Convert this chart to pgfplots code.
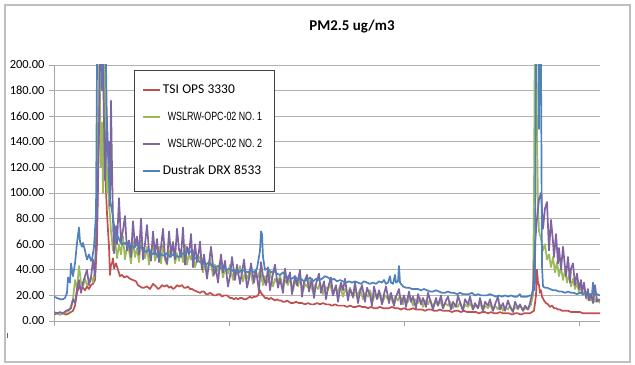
\documentclass[border=0pt]{standalone}
\usepackage{pgfplots}
\pgfplotsset{compat=1.18}
\usepackage{pgfplotstable}
\usepackage{fontspec}
\setmainfont{Carlito}
\newfontfamily\arialf{Liberation Sans}
\definecolor{exred}{HTML}{C0504D}
\definecolor{exgreen}{HTML}{9BBB59}
\definecolor{expurple}{HTML}{8064A2}
\definecolor{exblue}{HTML}{4F81BD}

\pgfplotstableread[row sep=\\]{x y\\
0 5\\ 3 6\\ 6 5\\ 9 6\\ 12 5\\ 15 6\\ 17 7\\ 19 8\\ 21 12\\ 23 22\\ 25 27\\ 27 25\\ 29 26\\ 31 24\\ 33 27\\ 35 25\\ 37 28\\ 39 29\\ 41 32\\ 43 60\\ 45 150\\ 46 230\\ 48 260\\ 50 180\\ 51 120\\ 53 84\\ 55 58\\ 56 36\\ 57 44\\ 58 45\\ 59 49\\ 60 41\\ 62 45\\ 64 40\\ 66 35\\ 68 36\\ 70 34\\ 73 35\\ 76 33\\ 79 32\\ 82 31\\ 84 28\\ 86 27\\ 88 26\\ 90 26\\ 93 27\\ 96 25\\ 99 29\\ 102 27\\ 104 25\\ 106 26\\ 108 28\\ 110 27\\ 113 28\\ 115 26\\ 117 27\\ 119 25\\ 121 26\\ 123 28\\ 125 27\\ 128 28\\ 130 26\\ 132 26\\ 134 27\\ 136 25\\ 138 25\\ 140 24\\ 143 23\\ 146 22\\ 148 23\\ 150 23\\ 152 21\\ 154 21\\ 156 22\\ 158 21\\ 160 20\\ 162 20\\ 164 21\\ 166 21\\ 168 19\\ 170 20\\ 173 20\\ 176 18\\ 178 18\\ 180 17\\ 182 18\\ 184 17\\ 186 18\\ 188 18\\ 190 17\\ 192 17\\ 194 18\\ 196 19\\ 198 18\\ 200 19\\ 202 19\\ 204 20\\ 206 24\\ 207 22\\ 209 20\\ 211 18\\ 213 18\\ 215 17\\ 217 18\\ 219 17\\ 221 16\\ 223 17\\ 225 16\\ 227 16\\ 229 15\\ 231 15\\ 233 16\\ 235 15\\ 237 14\\ 239 14\\ 242 15\\ 245 14\\ 248 14\\ 251 13\\ 254 14\\ 257 13\\ 260 13\\ 263 14\\ 266 13\\ 269 14\\ 272 13\\ 275 13\\ 278 12\\ 281 13\\ 284 12\\ 287 12\\ 290 12\\ 293 11\\ 296 12\\ 299 11\\ 302 11\\ 305 12\\ 308 11\\ 311 11\\ 314 10\\ 317 11\\ 320 10\\ 323 10\\ 326 11\\ 329 10\\ 332 10\\ 335 10\\ 338 11\\ 341 10\\ 344 10\\ 347 9\\ 350 10\\ 353 9\\ 356 9\\ 359 10\\ 362 9\\ 365 9\\ 368 9\\ 371 8\\ 374 9\\ 377 9\\ 380 8\\ 383 8\\ 386 9\\ 389 8\\ 392 8\\ 395 8\\ 398 7\\ 401 8\\ 404 8\\ 407 7\\ 410 8\\ 413 7\\ 416 7\\ 419 7\\ 422 7\\ 425 6\\ 428 7\\ 431 7\\ 434 6\\ 437 7\\ 440 6\\ 443 6\\ 446 7\\ 449 6\\ 452 6\\ 455 6\\ 458 5\\ 461 6\\ 464 6\\ 467 5\\ 470 6\\ 473 6\\ 476 6\\ 478 7\\ 480 8\\ 482 20\\ 483 40\\ 484 30\\ 485 28\\ 486 22\\ 487 24\\ 488 19\\ 490 16\\ 492 14\\ 494 13\\ 496 11\\ 498 12\\ 500 10\\ 502 10\\ 504 9\\ 506 9\\ 508 8\\ 511 8\\ 514 8\\ 517 7\\ 520 7\\ 523 7\\ 526 7\\ 529 6\\ 532 6\\ 535 6\\ 538 6\\ 541 6\\ 544 6\\ 546 6\\
}\tsi

\pgfplotstableread[row sep=\\]{x y\\
0 6\\ 3 6\\ 6 5\\ 9 6\\ 12 7\\ 15 8\\ 17 12\\ 19 17\\ 21 32\\ 23 25\\ 25 43\\ 27 30\\ 29 27\\ 31 33\\ 33 28\\ 35 30\\ 37 35\\ 39 30\\ 41 40\\ 43 100\\ 45 200\\ 46 175\\ 47 120\\ 48 155\\ 49 100\\ 50 140\\ 51 250\\ 52 150\\ 53 100\\ 54 120\\ 55 90\\ 56 82\\ 57 70\\ 59 55\\ 61 64\\ 63 49\\ 65 60\\ 67 52\\ 69 66\\ 71 48\\ 73 58\\ 75 55\\ 77 45\\ 79 62\\ 81 50\\ 83 57\\ 85 46\\ 87 63\\ 89 53\\ 91 49\\ 93 58\\ 95 44\\ 97 55\\ 99 60\\ 101 47\\ 103 52\\ 105 58\\ 107 45\\ 109 60\\ 111 48\\ 113 44\\ 115 55\\ 117 50\\ 119 62\\ 121 45\\ 123 53\\ 125 47\\ 127 56\\ 129 46\\ 131 60\\ 133 44\\ 135 52\\ 137 48\\ 139 55\\ 141 42\\ 143 47\\ 146 50\\ 149 38\\ 151 46\\ 154 40\\ 156 49\\ 159 35\\ 161 44\\ 164 39\\ 166 47\\ 169 34\\ 171 41\\ 174 37\\ 176 44\\ 179 32\\ 181 40\\ 184 36\\ 186 43\\ 189 31\\ 191 38\\ 194 33\\ 196 41\\ 199 29\\ 201 37\\ 204 34\\ 206 40\\ 209 28\\ 211 35\\ 214 30\\ 216 38\\ 219 27\\ 221 33\\ 224 29\\ 226 36\\ 229 25\\ 231 32\\ 234 28\\ 236 34\\ 239 24\\ 241 31\\ 244 27\\ 246 33\\ 249 23\\ 251 29\\ 254 26\\ 256 32\\ 259 22\\ 261 28\\ 264 25\\ 266 30\\ 269 21\\ 271 27\\ 274 24\\ 276 29\\ 279 20\\ 281 26\\ 284 22\\ 286 28\\ 289 19\\ 291 25\\ 294 21\\ 296 26\\ 299 18\\ 301 24\\ 304 20\\ 306 25\\ 309 17\\ 311 22\\ 314 19\\ 316 24\\ 319 16\\ 321 21\\ 324 18\\ 326 22\\ 329 15\\ 331 20\\ 334 17\\ 336 21\\ 339 14\\ 341 19\\ 344 16\\ 346 20\\ 349 13\\ 351 18\\ 354 15\\ 356 19\\ 359 12\\ 361 17\\ 364 14\\ 366 18\\ 369 11\\ 371 16\\ 374 13\\ 376 17\\ 379 11\\ 381 15\\ 384 12\\ 386 16\\ 389 10\\ 391 14\\ 394 12\\ 396 15\\ 399 10\\ 401 13\\ 404 11\\ 406 15\\ 409 9\\ 411 13\\ 414 11\\ 416 14\\ 419 9\\ 421 12\\ 424 10\\ 426 14\\ 429 8\\ 431 12\\ 434 10\\ 436 13\\ 439 8\\ 441 12\\ 444 9\\ 446 13\\ 449 8\\ 451 11\\ 454 9\\ 456 12\\ 459 8\\ 461 11\\ 464 9\\ 466 12\\ 469 8\\ 471 10\\ 474 9\\ 477 13\\ 479 20\\ 480 100\\ 481 250\\ 482 250\\ 483 150\\ 484 90\\ 485 70\\ 487 64\\ 489 55\\ 491 60\\ 493 48\\ 495 52\\ 497 42\\ 499 50\\ 501 38\\ 503 46\\ 505 35\\ 507 42\\ 509 32\\ 511 40\\ 513 30\\ 515 36\\ 517 27\\ 519 33\\ 521 25\\ 523 30\\ 525 22\\ 527 27\\ 529 20\\ 531 24\\ 533 17\\ 535 21\\ 537 16\\ 539 22\\ 541 15\\ 543 18\\ 546 14\\
}\wslone

\pgfplotstableread[row sep=\\]{x y\\
0 7\\ 3 6\\ 6 7\\ 9 6\\ 12 8\\ 15 9\\ 17 10\\ 19 17\\ 21 14\\ 23 25\\ 25 32\\ 27 22\\ 29 30\\ 31 35\\ 33 40\\ 35 28\\ 37 34\\ 39 48\\ 41 35\\ 43 80\\ 45 150\\ 47 250\\ 49 200\\ 51 110\\ 53 160\\ 54 130\\ 55 140\\ 56 90\\ 57 172\\ 58 120\\ 59 79\\ 60 53\\ 62 74\\ 63 60\\ 65 96\\ 67 62\\ 69 71\\ 71 82\\ 73 55\\ 75 63\\ 77 50\\ 79 78\\ 81 58\\ 83 66\\ 85 52\\ 87 80\\ 89 48\\ 91 60\\ 93 75\\ 95 55\\ 97 47\\ 99 70\\ 101 52\\ 103 64\\ 105 46\\ 107 58\\ 109 72\\ 111 50\\ 113 45\\ 115 70\\ 117 52\\ 119 61\\ 121 48\\ 123 72\\ 125 56\\ 127 50\\ 129 73\\ 131 44\\ 133 58\\ 135 52\\ 137 68\\ 139 42\\ 141 60\\ 143 46\\ 145 55\\ 146 62\\ 148 40\\ 150 52\\ 153 33\\ 155 45\\ 157 58\\ 160 36\\ 162 41\\ 164 30\\ 167 52\\ 169 38\\ 171 47\\ 174 27\\ 176 35\\ 178 50\\ 181 32\\ 183 44\\ 186 29\\ 188 38\\ 190 48\\ 193 26\\ 195 33\\ 197 45\\ 200 30\\ 202 40\\ 205 23\\ 207 46\\ 209 35\\ 212 28\\ 214 42\\ 216 24\\ 219 37\\ 221 44\\ 224 26\\ 226 33\\ 229 22\\ 231 41\\ 233 30\\ 236 38\\ 238 21\\ 241 35\\ 243 28\\ 246 40\\ 248 19\\ 250 30\\ 253 36\\ 255 23\\ 258 33\\ 260 18\\ 262 29\\ 265 37\\ 267 22\\ 270 31\\ 272 17\\ 274 26\\ 277 34\\ 279 20\\ 282 28\\ 284 15\\ 287 30\\ 289 24\\ 291 33\\ 294 16\\ 296 25\\ 299 19\\ 301 30\\ 304 14\\ 306 23\\ 308 28\\ 311 15\\ 313 26\\ 316 20\\ 318 12\\ 320 27\\ 323 17\\ 325 24\\ 328 13\\ 330 21\\ 332 27\\ 335 14\\ 337 22\\ 340 12\\ 342 19\\ 345 25\\ 347 13\\ 350 20\\ 352 11\\ 355 23\\ 357 15\\ 359 19\\ 362 10\\ 364 21\\ 367 13\\ 369 18\\ 372 11\\ 374 22\\ 377 14\\ 379 9\\ 382 18\\ 384 12\\ 387 20\\ 389 10\\ 392 16\\ 394 19\\ 397 9\\ 399 15\\ 402 11\\ 404 20\\ 407 12\\ 409 8\\ 411 17\\ 414 13\\ 416 19\\ 419 9\\ 421 14\\ 424 10\\ 426 18\\ 429 8\\ 431 15\\ 434 12\\ 436 17\\ 439 8\\ 441 13\\ 444 19\\ 446 9\\ 449 14\\ 451 8\\ 454 16\\ 456 11\\ 459 7\\ 461 15\\ 464 10\\ 466 13\\ 469 8\\ 471 12\\ 474 9\\ 476 14\\ 479 25\\ 481 60\\ 483 80\\ 485 95\\ 487 100\\ 489 72\\ 491 88\\ 493 93\\ 495 55\\ 497 79\\ 499 62\\ 500 50\\ 502 68\\ 504 45\\ 505 57\\ 507 40\\ 509 58\\ 511 42\\ 512 35\\ 514 50\\ 516 30\\ 517 41\\ 519 45\\ 521 28\\ 523 37\\ 525 25\\ 527 32\\ 528 22\\ 530 30\\ 532 18\\ 534 25\\ 535 16\\ 537 21\\ 539 14\\ 541 28\\ 543 15\\ 546 17\\
}\wsltwo

\pgfplotstableread[row sep=\\]{x y\\
0 19\\ 3 18\\ 6 17\\ 9 17\\ 11 18\\ 13 22\\ 14 34\\ 16 30\\ 17 45\\ 19 35\\ 21 45\\ 23 61\\ 25 73\\ 26 62\\ 28 58\\ 29 61\\ 31 55\\ 33 48\\ 35 52\\ 37 47\\ 38 48\\ 40 58\\ 42 84\\ 43 200\\ 44 250\\ 46 300\\ 48 180\\ 49 280\\ 51 250\\ 52 200\\ 53 150\\ 55 110\\ 56 95\\ 58 86\\ 60 75\\ 62 64\\ 64 66\\ 66 62\\ 68 60\\ 71 61\\ 74 58\\ 77 60\\ 80 57\\ 83 60\\ 86 58\\ 89 56\\ 92 54\\ 95 56\\ 98 52\\ 101 54\\ 104 50\\ 107 52\\ 110 51\\ 113 53\\ 116 50\\ 119 52\\ 122 51\\ 125 50\\ 128 53\\ 131 52\\ 134 55\\ 137 54\\ 140 50\\ 143 48\\ 146 46\\ 149 45\\ 152 44\\ 155 46\\ 158 43\\ 161 42\\ 164 43\\ 167 41\\ 170 42\\ 173 40\\ 176 41\\ 179 39\\ 182 40\\ 185 38\\ 188 40\\ 191 39\\ 194 38\\ 197 40\\ 200 38\\ 203 41\\ 206 55\\ 207 70\\ 208 68\\ 209 50\\ 211 40\\ 214 41\\ 217 38\\ 220 39\\ 223 37\\ 226 36\\ 229 38\\ 232 35\\ 235 34\\ 238 33\\ 241 35\\ 244 32\\ 247 33\\ 250 31\\ 253 32\\ 256 34\\ 259 31\\ 262 33\\ 265 32\\ 268 33\\ 271 35\\ 274 34\\ 277 32\\ 280 33\\ 283 31\\ 286 32\\ 289 31\\ 292 30\\ 295 31\\ 298 30\\ 301 31\\ 304 30\\ 307 29\\ 310 31\\ 313 30\\ 316 29\\ 319 30\\ 322 29\\ 325 31\\ 328 30\\ 330 32\\ 332 29\\ 334 30\\ 336 35\\ 337 30\\ 339 29\\ 341 36\\ 342 30\\ 344 31\\ 345 43\\ 346 30\\ 349 27\\ 352 26\\ 355 26\\ 358 25\\ 361 25\\ 364 25\\ 367 24\\ 370 25\\ 373 24\\ 376 23\\ 379 23\\ 382 24\\ 385 23\\ 388 22\\ 391 22\\ 394 23\\ 397 22\\ 400 22\\ 403 21\\ 406 22\\ 409 21\\ 412 21\\ 415 21\\ 418 22\\ 421 20\\ 424 21\\ 427 20\\ 430 20\\ 433 20\\ 436 21\\ 439 20\\ 442 19\\ 445 20\\ 448 19\\ 451 20\\ 454 19\\ 457 20\\ 460 19\\ 463 19\\ 466 21\\ 467 19\\ 470 19\\ 473 19\\ 476 20\\ 478 20\\ 479 25\\ 480 24\\ 481 30\\ 482 200\\ 483 260\\ 484 300\\ 485 150\\ 486 280\\ 487 200\\ 488 43\\ 489 27\\ 491 26\\ 493 26\\ 496 25\\ 499 24\\ 502 24\\ 505 23\\ 508 23\\ 511 22\\ 514 23\\ 517 22\\ 520 22\\ 523 21\\ 526 22\\ 529 21\\ 532 22\\ 535 21\\ 538 21\\ 539 30\\ 540 22\\ 543 21\\ 546 20\\
}\dustrak

\begin{document}
\begin{tikzpicture}
\useasboundingbox (0,0) rectangle (635bp,365bp);
\begin{axis}[
  at={(54bp,44bp)}, anchor=south west,
  scale only axis, width=546bp, height=256bp,
  xmin=0, xmax=546, ymin=0, ymax=200,
  axis lines*=left,
  axis line style={black!35, line width=0.8bp},
  xtick={0,175,350,525}, xticklabels={},
  ytick={0,20,...,200},
  tick align=outside, major tick length=5bp,
  tick style={black!35, line width=0.8bp},
  ymajorgrids, grid style={black!30, line width=0.8bp},
  yticklabel style={font=\fontsize{12.5}{14}\selectfont, xshift=-1bp},
  /pgf/number format/.cd, fixed, fixed zerofill, precision=2, assume math mode=true,
  /pgfplots/.cd,
  legend style={at={(0.1465,0.98)}, anchor=north west, draw=black!75, fill=white,
    inner xsep=8bp, inner ysep=14bp, row sep=15bp,
    nodes={inner sep=0pt, text height=9bp, text depth=3bp, text width=103bp, anchor=west},
    /tikz/every odd column/.append style={column sep=2bp}},
  legend image post style={line width=1.7bp},
  legend cell align=left,
]
\addplot[color=exred, line width=1.7bp, line join=round] table[x=x,y=y] {\tsi};
\addlegendentry{\fontsize{13.5}{15}\selectfont TSI OPS 3330}
\addplot[color=exgreen, line width=1.7bp, line join=round] table[x=x,y=y] {\wslone};
\addlegendentry{\hspace{5bp}\scalebox{0.74}[1]{\arialf\fontsize{12}{14}\selectfont WSLRW-OPC-02 NO. 1}}
\addplot[color=expurple, line width=1.7bp, line join=round] table[x=x,y=y] {\wsltwo};
\addlegendentry{\hspace{5bp}\scalebox{0.74}[1]{\arialf\fontsize{12}{14}\selectfont WSLRW-OPC-02 NO. 2}}
\addplot[color=exblue, line width=1.7bp, line join=round] table[x=x,y=y] {\dustrak};
\addlegendentry{\fontsize{13.5}{15}\selectfont Dustrak DRX 8533}
\end{axis}
\node[font=\bfseries\fontsize{15}{18}\selectfont] at (352bp,338bp) {PM2.5 ug/m3};
\draw[black!25, line width=1.2bp] (5bp,3bp) rectangle (630bp,360bp);
\draw[black!60, line width=0.6bp] (7bp,27bp) -- (7bp,32bp);
\end{tikzpicture}
\end{document}
